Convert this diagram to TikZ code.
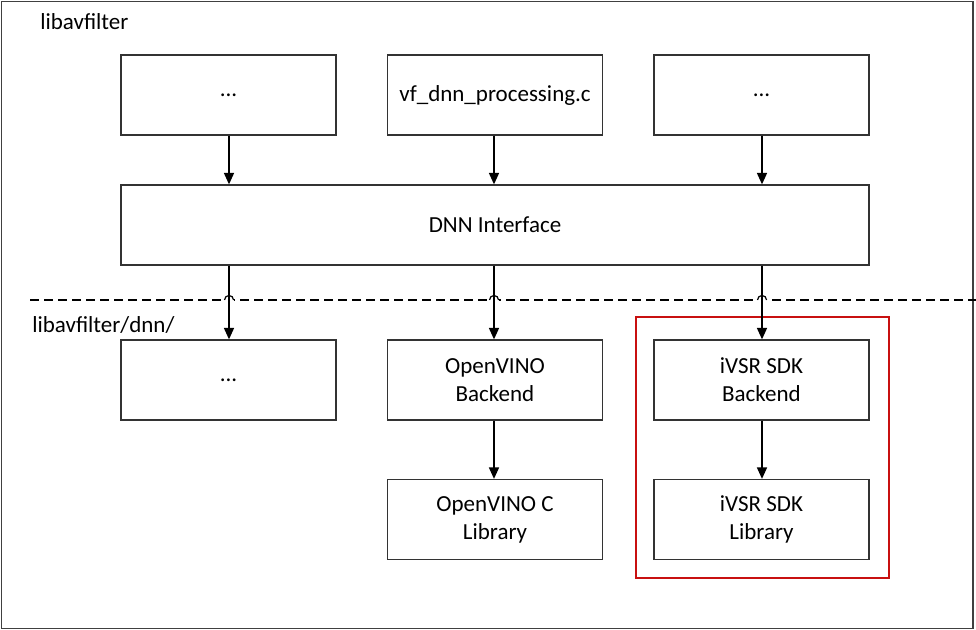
\documentclass[tikz,border=0pt]{standalone}
\usepackage{fontspec}
\setmainfont{Carlito}
\usetikzlibrary{arrows.meta,calc}
\begin{document}
\begin{tikzpicture}[x=0.75pt,y=-0.75pt,
  lbl/.style={font=\fontsize{17.25}{21}\selectfont, inner sep=0pt},
  box/.style={draw=black!80, line width=1pt, fill=white, minimum width=161.25pt, minimum height=60pt,
    align=center, inner sep=0pt, font=\fontsize{17.25}{21}\selectfont},
  wide/.style={box, minimum width=561pt},
  conn/.style={line width=1pt, -{Triangle[width=7.5pt,length=8.5pt]}},
  frame/.style={draw=black!75, line width=1pt},
  sep/.style={line width=1.1pt, dash pattern=on 6.5pt off 4pt},
  hop/.style={line width=0.9pt},
  redbox/.style={draw={rgb,255:red,200;green,16;blue,16}, line width=1.6pt}]
\useasboundingbox (0,0) rectangle (976,630);
\draw[frame] (1.5,1.5) rectangle (973,628.5);
\node[lbl, anchor=west] (top) at (40,22) {libavfilter};
\node[lbl, anchor=west] (dnnlbl) at (32,325) {libavfilter/dnn/};
% top row
\node[box] (b1) at (228.5,95) {...};
\node[box] (b2) at (495,95) {vf\_dnn\_processing.c};
\node[box] (b3) at (761.5,95) {...};
\node[wide] (dnn) at (495,225) {DNN Interface};
% second row
\node[box] (b4) at (228.5,380) {...};
\node[box] (b5) at (495,380) {OpenVINO\\Backend};
\node[box] (b6) at (761.5,380) {iVSR SDK\\Backend};
% third row
\node[box] (b7) at (495,519.5) {OpenVINO C\\Library};
\node[box] (b8) at (761.5,519.5) {iVSR SDK\\Library};
% red highlight
\draw[redbox] ($(b6.north west)+(-17,-22)$) rectangle ($(b8.south east)+(19,18)$);
% dashed separator
\coordinate (sepL) at (30,300);
\coordinate (sepR) at (976,300);
\draw[sep] (sepL) -- (sepR);
\foreach \xx in {229,494,762}{
  \draw[white, line width=2pt] (\xx-4.5,300) -- (\xx+4.5,300);
}
% connectors
\draw[conn] (b1.south -| 229,0) -- (dnn.north -| 229,0);
\draw[conn] (b2.south -| 494,0) -- (dnn.north -| 494,0);
\draw[conn] (b3.south -| 762,0) -- (dnn.north -| 762,0);
\draw[conn] (dnn.south -| 229,0) -- (b4.north -| 229,0);
\draw[conn] (dnn.south -| 494,0) -- (b5.north -| 494,0);
\draw[conn] (dnn.south -| 762,0) -- (b6.north -| 762,0);
\draw[conn] (b5.south -| 494,0) -- (b7.north -| 494,0);
\draw[conn] (b6.south -| 762,0) -- (b8.north -| 762,0);
% hops
\foreach \xx in {229,494,762}{
  \draw[hop] (\xx-4.5,300) arc[start angle=180,end angle=0,radius=3.4pt];
}
\end{tikzpicture}
\end{document}
